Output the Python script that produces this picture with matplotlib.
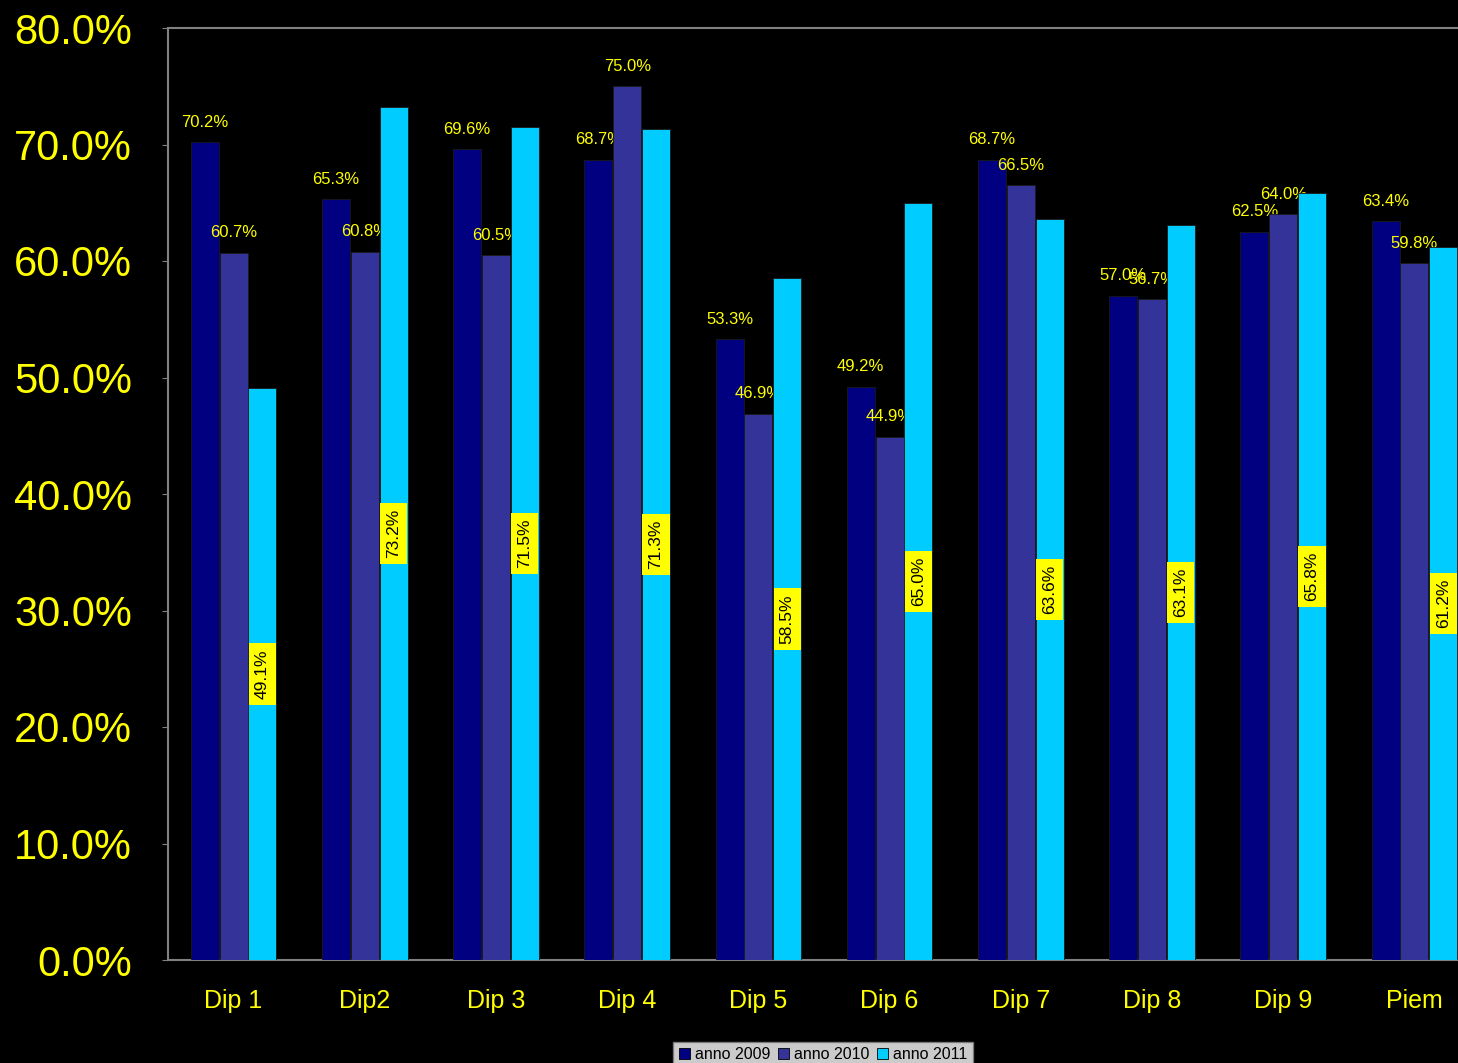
import numpy as np
import matplotlib.pyplot as plt

categories = ['Dip 1', 'Dip2', 'Dip 3', 'Dip 4', 'Dip 5', 'Dip 6', 'Dip 7', 'Dip 8', 'Dip 9', 'Piem']
anno_2009 = [70.2, 65.3, 69.6, 68.7, 53.3, 49.2, 68.7, 57.0, 62.5, 63.4]
anno_2010 = [60.7, 60.8, 60.5, 75.0, 46.9, 44.9, 66.5, 56.7, 64.0, 59.8]
anno_2011 = [49.1, 73.2, 71.5, 71.3, 58.5, 65.0, 63.6, 63.1, 65.8, 61.2]
series_names = ['anno 2009', 'anno 2010', 'anno 2011']
colors = ['#000080', '#333399', '#00CCFF']

plt.rcParams['font.family'] = ['Liberation Sans', 'DejaVu Sans']

fig = plt.figure(figsize=(14.58, 10.63), dpi=100, facecolor='black')
# axes runs past the right edge of the figure, like the original crop
ax = fig.add_axes([168 / 1458, 1 - 960 / 1063, 1312 / 1458, 932 / 1063])
ax.set_facecolor('black')

x = np.arange(len(categories))
w = 0.22
offsets = [-w, 0, w]
series = [anno_2009, anno_2010, anno_2011]

for k, (vals, col, name) in enumerate(zip(series, colors, series_names)):
    ax.bar(x + offsets[k], vals, width=w * 0.97, color=col,
           edgecolor='#1a1a1a', linewidth=0.6, label=name, zorder=3)
    for xi, v in zip(x + offsets[k], vals):
        if k < 2:
            ax.annotate(f'{v:.1f}%', (xi, v), xytext=(0, 9), textcoords='offset points',
                        ha='center', va='bottom', color='#FFFF00', fontsize=12)
        else:
            ax.text(xi, v / 2, f'{v:.1f}%', rotation=90, ha='center', va='center',
                    color='black', fontsize=12.5, zorder=5,
                    bbox=dict(boxstyle='square,pad=0.35', fc='#FFFF00', ec='none'))

ax.set_xlim(-0.5, len(categories) - 0.5)
ax.set_ylim(0, 80)
ax.set_yticks(np.arange(0, 81, 10))
ax.set_yticklabels([f'{t:.1f}%' for t in np.arange(0, 81, 10)])
ax.set_xticks(x)
ax.set_xticklabels(categories)
ax.tick_params(axis='y', colors='#808080', labelcolor='#FFFF00', labelsize=30,
               length=4, pad=22)
ax.tick_params(axis='x', length=0, labelcolor='#FFFF00', labelsize=18, pad=21)

for side in ['top', 'left', 'bottom']:
    ax.spines[side].set_color('#808080')
    ax.spines[side].set_linewidth(1.5)
ax.spines['right'].set_visible(False)

leg = fig.legend(loc='lower center', bbox_to_anchor=(823 / 1458, -0.012), ncol=3,
                 frameon=True, fancybox=False, fontsize=11.5, handlelength=0.7,
                 handleheight=0.7, handletextpad=0.3, columnspacing=0.5,
                 borderpad=0.35)
leg.get_frame().set_facecolor('white')
leg.get_frame().set_edgecolor('#808080')
for h in leg.legend_handles:
    h.set_edgecolor('black')

fig.savefig('out.png', dpi=100, facecolor='black')
